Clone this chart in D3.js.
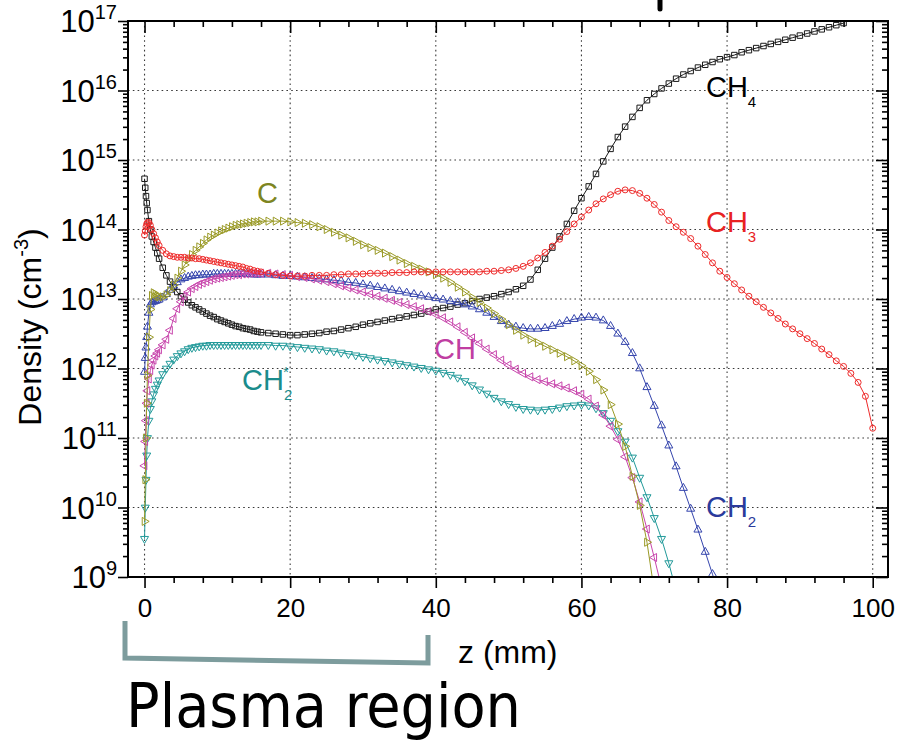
<!DOCTYPE html>
<html>
<head>
<meta charset="utf-8">
<script src="https://cdn.jsdelivr.net/npm/d3@7"></script>
<style>
  html, body { margin: 0; padding: 0; background: #fff; }
  svg { display: block; }
</style>
</head>
<body>
<svg id="chart" width="898" height="743"></svg>
<script>
// ---- data: axial position z (mm) and log10 of species density (cm^-3) ----
const zGrid = [0, 0.1, 0.2, 0.3, 0.4, 0.6, 0.8, 1, 1.25, 1.5, 1.75,
  2, 2.5, 3, 3.5, 4, 4.5, 5, 5.5, 6, 6.5, 7, 7.5, 8, 8.5, 9, 9.5, 10, 10.5, 11, 11.5, 12, 12.5, 13, 13.5, 14, 14.5, 15, 15.5,
  16, 17, 18, 19, 20, 21, 22, 23, 24, 25, 26, 27, 28, 29, 30, 31, 32, 33, 34, 35, 36, 37, 38, 39, 40,
  41, 42, 43, 44, 45, 46, 47, 48, 49, 50, 51, 52, 53, 54, 55, 56, 57, 58, 59, 60,
  61, 62, 63, 64, 65, 66, 67, 68, 69, 70, 71, 72, 73, 74, 75, 76, 77, 78, 79, 80,
  81, 82, 83, 84, 85, 86, 87, 88, 89, 90, 91, 92, 93, 94, 95, 96, 97, 98, 99, 100];

const logCH4 = [14.73, 14.60, 14.48, 14.38, 14.28, 14.12, 14.00, 13.90, 13.82, 13.74, 13.66,
  13.58, 13.45, 13.34, 13.25, 13.17, 13.10, 13.04, 12.99, 12.95, 12.91, 12.88, 12.85, 12.82, 12.79, 12.76, 12.74, 12.71, 12.69, 12.67, 12.65, 12.63, 12.61, 12.60, 12.58, 12.57, 12.56, 12.54, 12.53,
  12.52, 12.51, 12.50, 12.49, 12.48, 12.48, 12.49, 12.50, 12.51, 12.53, 12.54, 12.56, 12.58, 12.60, 12.63, 12.65, 12.67, 12.69, 12.71, 12.73, 12.75, 12.77, 12.79, 12.82, 12.85,
  12.87, 12.89, 12.92, 12.94, 12.97, 13.00, 13.02, 13.04, 13.07, 13.10, 13.14, 13.19, 13.28, 13.42, 13.58, 13.74, 13.90, 14.08, 14.27, 14.45,
  14.62, 14.80, 14.98, 15.16, 15.33, 15.48, 15.62, 15.75, 15.86, 15.95, 16.03, 16.10, 16.17, 16.23, 16.28, 16.33, 16.37, 16.41, 16.45, 16.48,
  16.51, 16.55, 16.58, 16.61, 16.64, 16.67, 16.70, 16.73, 16.76, 16.79, 16.82, 16.85, 16.88, 16.91, 16.94, 16.97];

const logCH3 = [13.92, 13.98, 14.04, 14.08, 14.10, 14.10, 14.06, 14.00, 13.94, 13.88, 13.82,
  13.77, 13.70, 13.65, 13.62, 13.61, 13.60, 13.60, 13.60, 13.59, 13.59, 13.58, 13.58, 13.57, 13.56, 13.55, 13.54, 13.53, 13.52, 13.51, 13.50, 13.49, 13.48, 13.47, 13.46, 13.44, 13.43, 13.41, 13.40,
  13.39, 13.37, 13.35, 13.34, 13.33, 13.33, 13.33, 13.34, 13.34, 13.34, 13.35, 13.35, 13.36, 13.36, 13.36, 13.37, 13.37, 13.37, 13.38, 13.38, 13.38, 13.39, 13.39, 13.39, 13.39,
  13.39, 13.39, 13.39, 13.39, 13.39, 13.39, 13.40, 13.40, 13.41, 13.42, 13.44, 13.47, 13.52, 13.59, 13.67, 13.76, 13.86, 13.97, 14.08, 14.18,
  14.28, 14.37, 14.44, 14.50, 14.55, 14.57, 14.56, 14.52, 14.45, 14.36, 14.25, 14.13, 14.04, 13.96, 13.87, 13.76, 13.64, 13.52, 13.40, 13.31,
  13.22, 13.13, 13.04, 12.96, 12.88, 12.80, 12.72, 12.64, 12.57, 12.50, 12.43, 12.36, 12.28, 12.20, 12.11, 12.03, 11.93, 11.80, 11.60, 11.14];

const logC = [9.80, 10.40, 11.00, 11.50, 11.90, 12.45, 12.85, 13.05, 13.09, 13.07, 13.04,
  13.03, 13.03, 13.06, 13.12, 13.20, 13.30, 13.40, 13.49, 13.57, 13.64, 13.70, 13.75, 13.80, 13.85, 13.89, 13.92, 13.95, 13.98, 14.00, 14.02, 14.04, 14.06, 14.07, 14.08, 14.09, 14.10, 14.11, 14.11,
  14.12, 14.12, 14.12, 14.12, 14.11, 14.10, 14.09, 14.07, 14.04, 14.00, 13.96, 13.92, 13.88, 13.83, 13.78, 13.74, 13.70, 13.66, 13.61, 13.56, 13.51, 13.47, 13.43, 13.39, 13.35,
  13.30, 13.24, 13.17, 13.10, 13.02, 12.95, 12.87, 12.79, 12.71, 12.63, 12.55, 12.48, 12.42, 12.37, 12.32, 12.27, 12.22, 12.17, 12.11, 12.04,
  11.96, 11.84, 11.69, 11.48, 11.20, 10.88, 10.45, 10.03, 9.50, 8.80];

const logCH2 = [11.95, 12.15, 12.30, 12.45, 12.60, 12.80, 12.92, 12.95, 12.96, 12.97, 12.98,
  12.99, 13.02, 13.07, 13.13, 13.19, 13.24, 13.28, 13.30, 13.32, 13.33, 13.34, 13.34, 13.35, 13.35, 13.35, 13.36, 13.36, 13.36, 13.36, 13.36, 13.36, 13.36, 13.36, 13.36, 13.36, 13.36, 13.35, 13.35,
  13.35, 13.35, 13.34, 13.33, 13.33, 13.32, 13.31, 13.30, 13.29, 13.28, 13.27, 13.26, 13.24, 13.23, 13.21, 13.19, 13.17, 13.15, 13.13, 13.11, 13.09, 13.07, 13.05, 13.03, 13.01,
  12.99, 12.97, 12.95, 12.92, 12.89, 12.85, 12.80, 12.74, 12.68, 12.63, 12.60, 12.58, 12.57, 12.57, 12.58, 12.61, 12.64, 12.68, 12.71, 12.73,
  12.74, 12.73, 12.69, 12.61, 12.50, 12.38, 12.22, 12.00, 11.73, 11.46, 11.18, 10.89, 10.59, 10.28, 9.98, 9.68, 9.36, 9.04, 8.70];

const logCH = [10.60, 10.95, 11.25, 11.50, 11.68, 11.85, 11.97, 12.05, 12.12, 12.18, 12.22,
  12.27, 12.34, 12.42, 12.55, 12.72, 12.86, 12.96, 13.04, 13.10, 13.15, 13.18, 13.21, 13.23, 13.25, 13.27, 13.29, 13.30, 13.31, 13.32, 13.33, 13.34, 13.35, 13.35, 13.36, 13.36, 13.37, 13.37, 13.37,
  13.37, 13.37, 13.36, 13.35, 13.34, 13.32, 13.31, 13.29, 13.27, 13.25, 13.22, 13.19, 13.16, 13.13, 13.10, 13.07, 13.04, 13.01, 12.98, 12.95, 12.92, 12.89, 12.86, 12.82, 12.78,
  12.73, 12.67, 12.60, 12.52, 12.44, 12.36, 12.28, 12.20, 12.12, 12.05, 11.99, 11.93, 11.88, 11.84, 11.81, 11.78, 11.75, 11.72, 11.68, 11.63,
  11.56, 11.46, 11.33, 11.17, 10.98, 10.73, 10.43, 10.08, 9.69, 9.28, 8.85];

const logCH2star = [9.55, 10.00, 10.40, 10.75, 11.00, 11.25, 11.42, 11.53, 11.63, 11.71, 11.77,
  11.83, 11.92, 12.00, 12.07, 12.13, 12.18, 12.22, 12.25, 12.28, 12.30, 12.31, 12.32, 12.33, 12.33, 12.34, 12.34, 12.34, 12.34, 12.34, 12.34, 12.34, 12.34, 12.34, 12.34, 12.34, 12.34, 12.34, 12.34,
  12.34, 12.34, 12.33, 12.33, 12.32, 12.31, 12.30, 12.29, 12.28, 12.26, 12.25, 12.23, 12.21, 12.19, 12.17, 12.15, 12.13, 12.11, 12.09, 12.07, 12.05, 12.03, 12.01, 11.99, 11.97,
  11.94, 11.91, 11.87, 11.82, 11.76, 11.70, 11.64, 11.58, 11.53, 11.49, 11.45, 11.42, 11.41, 11.40, 11.41, 11.42, 11.44, 11.46, 11.47, 11.48,
  11.47, 11.43, 11.36, 11.25, 11.10, 10.95, 10.72, 10.43, 10.15, 9.85, 9.55, 9.20, 8.80];

const xMajorTicks = [0, 20, 40, 60, 80, 100];
const xTickLabels = ["0", "20", "40", "60", "80", "100"];
const xMinorStep = 4;
const yDecades = [9, 10, 11, 12, 13, 14, 15, 16, 17];

// ---- series styling ----
const series = [
  { key: "CH4",  values: logCH4,     color: "#1a1a1a", shape: "square" },
  { key: "CH2*", values: logCH2star, color: "#229a9a", shape: "tri-down" },
  { key: "CH2",  values: logCH2,     color: "#3545ad", shape: "tri-up" },
  { key: "CH",   values: logCH,      color: "#c845ac", shape: "tri-left" },
  { key: "C",    values: logC,       color: "#9a9a26", shape: "tri-right" },
  { key: "CH3",  values: logCH3,     color: "#ee2a2a", shape: "circle" }
];

// species labels anchored in data coordinates (z, log10 density)
const speciesLabels = [
  { main: "C",  sub: "",  star: false, z: 15.45, lg: 14.38, color: "#7d8522" },
  { main: "CH", sub: "4", star: false, z: 77.1,  lg: 15.91, color: "#000000" },
  { main: "CH", sub: "3", star: false, z: 77.1,  lg: 13.96, color: "#e82222" },
  { main: "CH", sub: "",  star: false, z: 39.75, lg: 12.14, color: "#c03ea2" },
  { main: "CH", sub: "2", star: true,  z: 13.39, lg: 11.69, color: "#1b8c8c" },
  { main: "CH", sub: "2", star: false, z: 77.1,  lg: 9.86,  color: "#2b3b9c" }
];

const FONT = "'Liberation Sans', Arial, Helvetica, sans-serif";
const plot = { left: 128, right: 888, top: 21, bottom: 577 };

const svg = d3.select("#chart");
const x = d3.scaleLinear().domain([-2.27, 102.1]).range([plot.left, plot.right]);
const y = d3.scaleLog().domain([1e9, 1e17]).range([plot.bottom, plot.top]);

// ---- grid ----
const grid = svg.append("g").attr("stroke", "#3a3a3a").attr("stroke-width", 1.1)
  .attr("stroke-dasharray", "1.6 3.2");
grid.selectAll("line.gx").data(xMajorTicks).join("line")
  .attr("x1", d => x(d)).attr("x2", d => x(d))
  .attr("y1", plot.top).attr("y2", plot.bottom);
grid.selectAll("line.gy").data(yDecades.slice(1, -1)).join("line")
  .attr("x1", plot.left).attr("x2", plot.right)
  .attr("y1", d => y(Math.pow(10, d))).attr("y2", d => y(Math.pow(10, d)));

// ---- tick values ----
const xMinor = d3.range(xMinorStep, 101, xMinorStep).filter(v => v % 20 !== 0);
const yMajorVals = yDecades.map(e => Math.pow(10, e));
const yMinorVals = [];
yDecades.slice(0, -1).forEach(e => { for (let m = 2; m <= 9; m++) yMinorVals.push(m * Math.pow(10, e)); });

function styleTicks(g) {
  g.select(".domain").remove();
  g.selectAll(".tick line").attr("stroke", "#000").attr("stroke-width", 1.6);
}

// bottom (outward)
const gxB = svg.append("g").attr("transform", `translate(0,${plot.bottom})`)
  .call(d3.axisBottom(x).tickValues(xMajorTicks).tickSize(11).tickPadding(10.5)
    .tickFormat((d, i) => xTickLabels[i]))
  .call(styleTicks);
gxB.attr("font-family", FONT).attr("font-size", 26);
gxB.selectAll("text").attr("fill", "#000");
svg.append("g").attr("transform", `translate(0,${plot.bottom})`)
  .call(d3.axisBottom(x).tickValues(xMinor).tickSize(6).tickFormat(""))
  .call(styleTicks);

// top (inward)
svg.append("g").attr("transform", `translate(0,${plot.top})`)
  .call(d3.axisBottom(x).tickValues(xMajorTicks).tickSize(12).tickFormat(""))
  .call(styleTicks);
svg.append("g").attr("transform", `translate(0,${plot.top})`)
  .call(d3.axisBottom(x).tickValues(xMinor).tickSize(6).tickFormat(""))
  .call(styleTicks);

// left (outward)
svg.append("g").attr("transform", `translate(${plot.left},0)`)
  .call(d3.axisLeft(y).tickValues(yMajorVals).tickSize(10).tickFormat(""))
  .call(styleTicks);
svg.append("g").attr("transform", `translate(${plot.left},0)`)
  .call(d3.axisLeft(y).tickValues(yMinorVals).tickSize(5).tickFormat(""))
  .call(styleTicks);

// right (inward)
svg.append("g").attr("transform", `translate(${plot.right},0)`)
  .call(d3.axisLeft(y).tickValues(yMajorVals).tickSize(12).tickFormat(""))
  .call(styleTicks);
svg.append("g").attr("transform", `translate(${plot.right},0)`)
  .call(d3.axisLeft(y).tickValues(yMinorVals).tickSize(6).tickFormat(""))
  .call(styleTicks);

// y tick labels as powers of ten
const yLab = svg.append("g").attr("font-family", FONT).attr("fill", "#000");
yDecades.forEach(e => {
  const t = yLab.append("text").attr("x", 117).attr("y", y(Math.pow(10, e)) + 11)
    .attr("text-anchor", "end");
  t.append("tspan").attr("font-size", 31).text("10");
  t.append("tspan").attr("font-size", 20).attr("dy", -13).text(String(e));
});

// ---- series ----
svg.append("clipPath").attr("id", "plotClip").append("rect")
  .attr("x", plot.left).attr("y", plot.top)
  .attr("width", plot.right - plot.left).attr("height", plot.bottom - plot.top);

const layer = svg.append("g").attr("clip-path", "url(#plotClip)");
const line = d3.line().x(d => x(d.z)).y(d => y(d.v));
const symbols = {
  "square":    { type: d3.symbolSquare,   size: 30, rot: 0 },
  "circle":    { type: d3.symbolCircle,   size: 28, rot: 0 },
  "tri-up":    { type: d3.symbolTriangle, size: 28, rot: 0 },
  "tri-down":  { type: d3.symbolTriangle, size: 28, rot: 180 },
  "tri-right": { type: d3.symbolTriangle, size: 28, rot: 90 },
  "tri-left":  { type: d3.symbolTriangle, size: 28, rot: -90 }
};

series.forEach(s => {
  const pts = s.values.map((lg, i) => ({ z: zGrid[i], v: Math.pow(10, lg) }));
  const g = layer.append("g");
  g.append("path").datum(pts).attr("d", line)
    .attr("fill", "none").attr("stroke", s.color).attr("stroke-width", 1);
  const sym = symbols[s.shape];
  const pathD = d3.symbol(sym.type, sym.size)();
  g.selectAll("path.m").data(pts).join("path").attr("class", "m")
    .attr("d", pathD)
    .attr("transform", d => `translate(${x(d.z)},${y(d.v)}) rotate(${sym.rot})`)
    .attr("fill", "none").attr("stroke", s.color).attr("stroke-width", 1);
});

// frame
svg.append("rect").attr("x", plot.left).attr("y", plot.top)
  .attr("width", plot.right - plot.left).attr("height", plot.bottom - plot.top)
  .attr("fill", "none").attr("stroke", "#000").attr("stroke-width", 2);

// ---- species labels ----
const lab = svg.append("g").attr("font-family", FONT);
speciesLabels.forEach(L => {
  const px = x(L.z), py = y(Math.pow(10, L.lg));
  const t = lab.append("text").attr("x", px).attr("y", py).attr("fill", L.color);
  t.append("tspan").attr("font-size", 29).text(L.main);
  if (L.sub) t.append("tspan").attr("font-size", 15).attr("dy", 10).text(L.sub);
  if (L.star) {
    lab.append("text").attr("x", px + 41).attr("y", py - 13).attr("fill", L.color)
      .attr("font-size", 15).text("*");
  }
});

// ---- axis titles ----
const yTitle = svg.append("text").attr("font-family", FONT).attr("fill", "#000")
  .attr("text-anchor", "middle")
  .attr("transform", "translate(41,327) rotate(-90)");
yTitle.append("tspan").attr("font-size", 32).text("Density (cm");
yTitle.append("tspan").attr("font-size", 20).attr("dy", -13).text("-3");
yTitle.append("tspan").attr("font-size", 32).attr("dy", 13).text(")");

svg.append("text").attr("font-family", FONT).attr("font-size", 32).attr("fill", "#000")
  .attr("x", 458).attr("y", 663).text("z (mm)");

// ---- plasma region bracket ----
svg.append("path")
  .attr("d", "M125,621 L125,658 L428,663 L428,635")
  .attr("fill", "none").attr("stroke", "#7d9c9d").attr("stroke-width", 5);
svg.append("text")
  .attr("font-family", "'Comic Sans MS', 'DejaVu Sans Condensed', 'DejaVu Sans', sans-serif")
  .attr("font-size", 60).attr("fill", "#000")
  .attr("x", 126).attr("y", 727)
  .attr("textLength", 395).attr("lengthAdjust", "spacingAndGlyphs")
  .text("Plasma region");

// stroke fragment at the top edge
svg.append("line").attr("x1", 660).attr("x2", 660).attr("y1", -5).attr("y2", 9)
  .attr("stroke", "#000").attr("stroke-width", 5).attr("stroke-linecap", "round");
</script>
</body>
</html>
